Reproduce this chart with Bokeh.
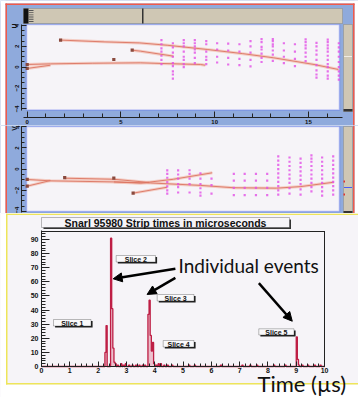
import math
import numpy as np
from bokeh.plotting import figure
from bokeh.layouts import column
from bokeh.models import (BoxAnnotation, Label, Arrow, NormalHead, Range1d,
                          SingleIntervalTicker)
from bokeh.embed import file_html
from bokeh.resources import INLINE

# ---------------- data ----------------
# U view (top panel): reconstructed tracks, vertices and strip hits
u_tracks_x = [[1.78, 4.1, 6.0, 7.5, 9.6, 11.5, 13.15, 15.3, 16.6],
              [5.6, 6.04, 7.8],
              [0.0, 1.24, 3.5, 6.04, 7.1, 9.24, 9.5],
              [0.0, 1.24]]
u_tracks_y = [[2.6, 2.43, 2.33, 2.1, 1.7, 1.3, 0.9, 0.26, -0.22],
              [1.63, 1.54, 1.06],
              [0.26, 0.32, 0.38, 0.42, 0.36, 0.26, 0.19],
              [-0.12, 0.19]]
u_vertex_x = [1.78, 5.6, 4.62, 0.0, 0.0]
u_vertex_y = [2.6, 1.63, 0.74, 0.26, -0.12]
u_hit_cols = [7.16, 7.77, 8.35, 8.94, 9.55, 10.13, 10.72, 11.32, 11.91, 12.5,
              13.1, 13.69, 14.28, 14.85, 15.43, 16.03, 16.62]
u_hit_ys = [
    [2.6, 2.2, 1.8, 1.5, 1.1, 0.7, 0.3],
    [2.3, 1.9, 1.4, 1.0, 0.4, 0.1, -0.4, -0.7, -1.1],
    [2.6, 2.3, 2.0, 1.5, 1.0, 0.7, 0.3, 0.0],
    [2.6, 2.3, 2.0, 1.7, 1.4, 0.9, 0.4],
    [2.5, 2.2, 1.5, 1.0, 0.7, 0.3],
    [2.3, 1.7, 1.0, 0.45],
    [2.27, 1.6, 0.9, 0.26],
    [2.2, 1.5, 0.8, 0.2],
    [2.5, 2.0, 1.4, 0.7, 0.07],
    [2.7, 2.4, 1.95, 1.7, 1.3, 0.9, 0.5],
    [2.7, 2.5, 2.2, 2.0, 1.6, 1.2, 0.6],
    [2.3, 1.6, 1.0, 0.4],
    [2.2, 1.5, 0.8, 0.1],
    [2.66, 2.4, 2.1, 1.8, 1.4, 1.0, 0.58],
    [2.34, 2.0, 1.6, 1.2, 0.7, 0.2, -0.3, -0.7, -1.0],
    [2.65, 2.4, 2.1, 1.8, 1.5, 1.1, 0.7, 0.3, 0.0, -0.4, -0.8, -1.1],
    [2.3, 1.9, 1.5, 1.0, 0.5, 0.0, -0.4, -0.8, -1.2],
]

# V view (middle panel)
v_tracks_x = [[0.0, 1.24, 4.6, 6.58, 9.24, 11.0, 13.3, 14.6, 16.35],
              [0.0, 1.24],
              [4.62, 6.04, 7.8, 9.87],
              [2.0, 4.62, 6.5],
              [5.65, 7.47]]
v_tracks_y = [[-0.97, -1.1, -1.2, -1.3, -1.53, -1.75, -1.79, -1.64, -1.23],
              [-1.6, -1.07],
              [-1.2, -1.32, -0.95, -0.34],
              [-0.85, -0.95, -1.25],
              [-2.26, -1.7]]
v_vertex_x = [0.0, 0.0, 2.0, 4.62, 5.65]
v_vertex_y = [-0.97, -1.6, -0.8, -0.85, -2.26]
v_hit_cols = [7.47, 8.05, 8.66, 9.24, 9.83, 11.02, 11.6, 12.2, 12.8,
              13.39, 13.99, 14.58, 15.16, 15.73, 16.32]
v_hit_ys = [
    [-0.12, -0.44, -0.81, -1.23, -1.63, -2.0, -2.3],
    [-0.12, -0.5, -0.9, -1.4, -1.7, -2.2],
    [-0.1, -0.44, -0.9, -1.4, -2.2],
    [-0.4, -0.9, -1.4, -1.8, -2.2, -2.5],
    [-0.9, -1.5, -2.3],
    [-0.44, -1.07, -1.76, -2.45],
    [-0.44, -1.07, -1.76, -2.45],
    [-0.44, -1.07, -1.76, -2.45],
    [-0.44, -1.07, -1.76, -2.45],
    [1.2, 0.8, 0.4, 0.0, -0.4, -0.8, -1.2, -1.6, -2.0, -2.4],
    [1.1, 0.7, 0.3, -0.1, -0.5, -0.9, -1.3, -1.8, -2.3],
    [1.0, 0.6, 0.2, -0.2, -0.6, -1.0, -1.4, -1.9, -2.4],
    [1.3, 1.0, 0.7, 0.3, -0.1, -0.5, -0.9, -1.3, -1.7, -2.1],
    [1.1, 0.7, 0.3, -0.1, -0.5, -0.9, -1.3, -1.7, -2.1, -2.5],
    [1.2, 0.8, 0.4, 0.0, -0.4, -0.8, -1.2, -1.6, -2.0, -2.4],
]

# Strip-time histogram (microseconds), bin width 0.04
hist_bin_width = 0.04
hist_start = [2.24, 2.28, 2.44, 2.48, 2.52, 2.56, 2.60, 2.68, 2.80, 2.88, 2.96,
              3.08, 3.20, 3.32, 3.44, 3.56, 3.64, 3.76, 3.80, 3.84, 3.88, 3.92,
              3.96, 4.04, 4.12, 4.20, 4.32, 4.44, 4.60, 5.20, 5.40, 6.32, 7.08,
              7.36, 7.60, 8.20, 8.60, 9.00, 9.04, 9.08, 9.20, 9.40, 9.64, 9.84]
hist_count = [10, 29, 91, 41, 13, 3, 2, 1, 2, 1, 2,
              1, 1, 1, 1, 1, 1, 37, 47, 22, 11, 17,
              2, 1, 2, 2, 1, 1, 1, 1, 1, 1, 1,
              1, 1, 1, 1, 21, 5, 1, 1, 1, 1, 1]
slice_labels = ["Slice 1", "Slice 2", "Slice 3", "Slice 4", "Slice 5"]
hist_title = "Snarl 95980 Strip times in microseconds"
annotation_text = "Individual events"
x_title = "Time (\u00b5s)"

# ---------------- styles ----------------
BLUE_BG = "#8FAADC"
PANEL_BG = "#F6F4F8"
TRACK = "#DC7462"
TRACK_HALO = "#F2C3B8"
HIT = "#E24FE6"
VERTEX = "#8A4A3E"
RED = "#F05A4A"
YELLOW = "#EEE55A"
BEIGE = "#CFC7B4"
HIST = "#BE1E45"
FONT = "Liberation Sans"
W = 358


def cbox(fig, l, t, r, b, fill=None, line=None, lw=1.0, level="underlay", alpha=1.0):
    fig.add_layout(BoxAnnotation(
        left=l, right=r, top=t, bottom=b,
        left_units="canvas", right_units="canvas",
        top_units="canvas", bottom_units="canvas",
        fill_color=fill, fill_alpha=(alpha if fill else 0.0),
        line_color=line, line_width=lw, level=level))


def clabel(fig, x, y, text, size, angle=0.0, style="bold", font=FONT,
           align="center", baseline="middle", color="#111111"):
    fig.add_layout(Label(x=x, y=y, x_units="canvas", y_units="canvas", text=text,
                         angle=angle, text_font=font, text_font_size=size,
                         text_font_style=style, text_align=align,
                         text_baseline=baseline, text_color=color))


def style_axes(fig, size):
    fig.grid.visible = False
    for ax in fig.axis:
        ax.axis_line_color = "#222222"
        ax.major_tick_line_color = "#222222"
        ax.minor_tick_line_color = "#222222"
        ax.major_tick_out = 0
        ax.minor_tick_out = 0
        ax.major_tick_in = 5
        ax.minor_tick_in = 3
        ax.major_label_text_font = FONT
        ax.major_label_text_font_style = "bold"
        ax.major_label_text_font_size = size
        ax.major_label_text_color = "#111111"
        ax.major_label_standoff = 2


def event_panel(fig, tracks_x, tracks_y, vx, vy, cols, col_ys):
    for tx, ty in zip(tracks_x, tracks_y):
        fig.line(tx, ty, line_color=TRACK_HALO, line_width=3.0, line_alpha=0.8)
    for tx, ty in zip(tracks_x, tracks_y):
        fig.line(tx, ty, line_color=TRACK, line_width=1.0, line_alpha=0.9)
    hx, hy = [], []
    for c, ys in zip(cols, col_ys):
        for yv in ys:
            hx.append(c)
            hy.append(yv)
    fig.scatter(hx, hy, marker="square", size=2.2, fill_color=HIT, line_color=None,
                fill_alpha=0.8)
    fig.scatter(vx, vy, marker="square", size=3.2, fill_color=VERTEX, line_color=None)


common = dict(output_backend="svg", toolbar_location=None, title=None,
              min_border_left=0, min_border_right=0, min_border_top=0,
              min_border_bottom=0, outline_line_color=None)

# ---------------- U view (canvas rows 0..125) ----------------
HA = 125
figA = figure(width=W, height=HA, x_range=Range1d(-1.424, 17.67),
              y_range=Range1d(-5.595, 6.40),
              background_fill_color=BLUE_BG, border_fill_color=BLUE_BG, **common)
figA.xaxis.ticker = SingleIntervalTicker(interval=5, num_minor_ticks=5)
figA.yaxis.ticker = SingleIntervalTicker(interval=2, num_minor_ticks=4)
style_axes(figA, "6px")
figA.yaxis.major_label_orientation = "vertical"
figA.yaxis.fixed_location = -0.304
figA.yaxis.bounds = (-4.15, 4.08)
figA.xaxis.fixed_location = -4.83
figA.xaxis.bounds = (-0.2, 16.82)
figA.xaxis.major_tick_in = 6
figA.xaxis.minor_tick_in = 4
# white page outside the red frame
cbox(figA, 0, 0, W, 3, fill="#FFFFFF")
cbox(figA, 0, 0, 5, HA, fill="#FFFFFF")
cbox(figA, 354, 0, W, HA, fill="#FFFFFF")
# plot area (white box)
cbox(figA, 26, 24, 339, 109.5, fill=PANEL_BG, line="#4A5CF5", lw=1.6)
# red frame
cbox(figA, 5, 3, 6.5, HA, fill=RED, level="overlay")
cbox(figA, 5, 3, 354, 4.5, fill=RED, level="overlay")
cbox(figA, 352.5, 3, 354, HA, fill=RED, level="overlay")
# scroll bar
cbox(figA, 23, 8, 342, 23, fill=BEIGE, line="#6F6A5E", lw=1)
cbox(figA, 23, 8, 28, 23, fill="#111111")
for k in range(6):
    cbox(figA, 28, 9.5 + 2.2 * k, 33, 10.4 + 2.2 * k, fill="#555555")
cbox(figA, 141.5, 8, 143, 23, fill="#333333")
# right side bar
cbox(figA, 343, 24, 352, 111, fill=BEIGE, line="#6F6A5E", lw=1)
cbox(figA, 343.5, 55.5, 351.5, 56.5, fill="#F0ECE4")
cbox(figA, 343, 108.5, 352, 111, fill="#333333")
clabel(figA, 13.5, 25.5, "U", "7px", angle=math.pi / 2)
event_panel(figA, u_tracks_x, u_tracks_y, u_vertex_x, u_vertex_y, u_hit_cols, u_hit_ys)

# ---------------- V view (canvas rows 125..213) ----------------
HB = 88
figB = figure(width=W, height=HB, x_range=Range1d(-1.424, 17.67),
              y_range=Range1d(-4.18, 4.12), x_axis_location=None,
              background_fill_color=BLUE_BG, border_fill_color=BLUE_BG, **common)
figB.yaxis.ticker = SingleIntervalTicker(interval=2, num_minor_ticks=4)
style_axes(figB, "6px")
figB.yaxis.major_label_orientation = "vertical"
figB.yaxis.fixed_location = -0.304
figB.yaxis.bounds = (-4.1, 4.05)
cbox(figB, 0, 0, 5, HB, fill="#FFFFFF")
cbox(figB, 354, 0, W, HB, fill="#FFFFFF")
cbox(figB, 26, 1, 339, 86, fill=PANEL_BG, line="#4A5CF5", lw=1.6)
cbox(figB, 5, 0, 6.5, HB, fill=RED, level="overlay")
cbox(figB, 352.5, 0, 354, HB, fill=RED, level="overlay")
cbox(figB, 343, 1, 352, HB, fill=BEIGE, line="#6F6A5E", lw=1)
cbox(figB, 343, 85.5, 352, HB, fill="#333333")
cbox(figB, 343.5, 61.5, 351.5, 62.5, fill="#4A5CF5")
cbox(figB, 343, 55, 344.5, 57, fill="#E03030")
cbox(figB, 343, 68, 344.5, 70, fill="#E03030")
clabel(figB, 13.5, 3, "V", "7px", angle=math.pi / 2)
event_panel(figB, v_tracks_x, v_tracks_y, v_vertex_x, v_vertex_y, v_hit_cols, v_hit_ys)

# ---------------- histogram (canvas rows 213..397) ----------------
HC = 184
figC = figure(width=W, height=HC, x_range=Range1d(-1.449, 11.20),
              y_range=Range1d(-21.99, 108.5),
              background_fill_color=PANEL_BG, border_fill_color=PANEL_BG, **common)
figC.xaxis.ticker = SingleIntervalTicker(interval=1, num_minor_ticks=5)
figC.yaxis.ticker = SingleIntervalTicker(interval=10, num_minor_ticks=5)
style_axes(figC, "7px")
figC.xaxis.fixed_location = 0
figC.xaxis.bounds = (0, 10)
figC.yaxis.fixed_location = 0
figC.yaxis.bounds = (0, 96.4)
figC.yaxis.major_tick_in = 8
figC.yaxis.minor_tick_in = 4
figC.xaxis.major_tick_in = 5
figC.xaxis.minor_tick_in = 3
figC.yaxis.major_label_standoff = 3

# yellow frame and white page outside it
cbox(figC, 0, 171, W, HC, fill="#FFFFFF", level="underlay")
cbox(figC, 0, 0, 5.5, HC, fill="#FFFFFF", level="underlay")
cbox(figC, 5.5, 169.5, W, 171, fill=YELLOW, level="underlay")
cbox(figC, 5.5, 0, 7, 171, fill=YELLOW, level="overlay")
cbox(figC, 5.5, 0, W, 1.5, fill=YELLOW, level="overlay")
# histogram frame (top and right edges)
cbox(figC, 41, 17.5, 324.5, 18.5, fill="#222222", level="underlay")
cbox(figC, 323.5, 17.5, 324.5, 153, fill="#222222", level="underlay")

n_bins = int(round(10 / hist_bin_width))
counts = np.zeros(n_bins)
for s, c in zip(hist_start, hist_count):
    counts[int(round(s / hist_bin_width))] = c
edges = np.arange(n_bins + 1) * hist_bin_width
xs = np.repeat(edges, 2)[1:-1]
ys = np.repeat(counts, 2)
figC.quad(left=hist_start, right=[s + hist_bin_width for s in hist_start],
          bottom=0, top=hist_count, fill_color="#E6A0B2", fill_alpha=0.7, line_color=None)
figC.line(xs, ys, line_color=HIST, line_width=1.3)

# title box
cbox(figC, 43, 6, 290.5, 15.5, fill="#333333", level="annotation")
cbox(figC, 41, 4, 289, 14, fill=PANEL_BG, line="#222222", lw=1, level="annotation")
clabel(figC, 165, 9.3, hist_title, "10.5px")

# slice boxes
slice_boxes = [(53, 106, 90.5, 112.5), (115.7, 42, 155, 48.5), (156.7, 81, 193.5, 87.5),
               (162.7, 127, 193.5, 133.5), (258.3, 115.3, 293.5, 121.5)]
for (l, t, r, b), txt in zip(slice_boxes, slice_labels):
    cbox(figC, l + 1.6, t + 1.6, r + 1.6, b + 1.6, fill="#222222", level="annotation")
    cbox(figC, l, t, r, b, fill="#FAF9FB", line="#222222", lw=1, level="annotation")
    clabel(figC, (l + r) / 2, (t + b) / 2 + 0.3, txt, "7px")

# arrows pointing at peaks
for x0, y0, x1, y1 in [(4.73, 69.3, 2.53, 62.2), (4.73, 62.9, 3.73, 51.1),
                       (7.68, 59.1, 8.86, 32.1)]:
    figC.add_layout(Arrow(end=NormalHead(size=9, fill_color="black", line_color="black"),
                          x_start=x0, y_start=y0, x_end=x1, y_end=y1,
                          line_color="black", line_width=2.5))

figC.add_layout(Label(x=4.84, y=71.3, text=annotation_text, text_font="Lato",
                      text_font_size="19px", text_color="#111111",
                      text_baseline="middle", text_align="left"))
figC.add_layout(Label(x=7.63, y=-11.9, text=x_title, text_font="Lato",
                      text_font_size="22px", text_color="#111111",
                      text_baseline="middle", text_align="left"))

layout = column(figA, figB, figC, spacing=0)
open("out.html", "w").write(file_html(layout, INLINE))
